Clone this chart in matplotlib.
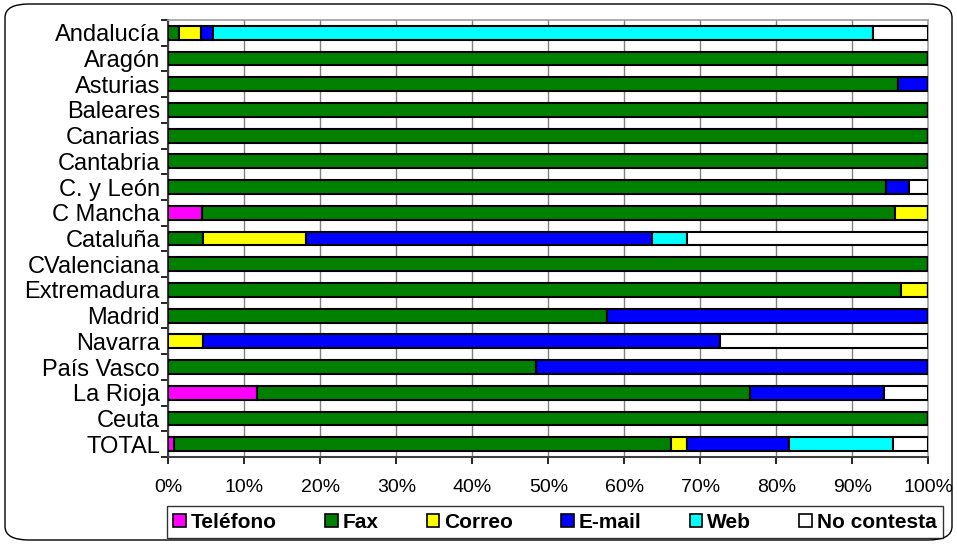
import matplotlib
matplotlib.use("Agg")
import matplotlib.pyplot as plt
from matplotlib.patches import FancyBboxPatch, Patch
import numpy as np

plt.rcParams['font.family'] = ['Liberation Sans', 'DejaVu Sans']

regions = ["Andalucía", "Aragón", "Asturias", "Baleares", "Canarias", "Cantabria",
           "C. y León", "C Mancha", "Cataluña", "CValenciana", "Extremadura",
           "Madrid", "Navarra", "País Vasco", "La Rioja", "Ceuta", "TOTAL"]

telefono    = [0.0, 0, 0, 0, 0, 0, 0, 4.4, 0, 0, 0, 0, 0, 0, 11.7, 0, 0.7]
fax         = [1.45, 100, 96.0, 100, 100, 100, 94.4, 91.2, 4.6, 100, 96.4, 57.7, 0, 48.4, 64.8, 100, 65.5]
correo      = [2.9, 0, 0, 0, 0, 0, 0, 4.4, 13.5, 0, 3.6, 0, 4.6, 0, 0, 0, 2.0]
email       = [1.5, 0, 4.0, 0, 0, 0, 3.0, 0, 45.5, 0, 0, 42.3, 68.0, 51.6, 17.7, 0, 13.5]
web         = [86.85, 0, 0, 0, 0, 0, 0, 0, 4.6, 0, 0, 0, 0, 0, 0, 0, 13.6]
no_contesta = [7.3, 0, 0, 0, 0, 0, 2.6, 0, 31.8, 0, 0, 0, 27.4, 0, 5.8, 0, 4.7]

series_names = ["Teléfono", "Fax", "Correo", "E-mail", "Web", "No contesta"]
series_vals = [telefono, fax, correo, email, web, no_contesta]
colors = ["#FF00FF", "#008000", "#FFFF00", "#0000FF", "#00FFFF", "#FFFFFF"]

fig = plt.figure(figsize=(9.57, 5.44), dpi=100)
ax = fig.add_axes([168.3/957, 1-457/544, (928.3-168.3)/957, (457-20)/544])

y = np.arange(len(regions))
left = np.zeros(len(regions))
for name, vals, c in zip(series_names, series_vals, colors):
    v = np.array(vals, dtype=float)
    ax.barh(y, v, left=left, height=0.54, color=c, edgecolor='black',
            linewidth=1.5, label=name, zorder=3)
    left += v

ax.set_xlim(0, 100)
ax.set_ylim(len(regions)-0.5, -0.5)
ax.set_xticks(np.arange(0, 101, 10))
ax.set_xticklabels([f"{t}%" for t in range(0, 101, 10)], fontsize=14)
ax.set_yticks(y)
ax.set_yticklabels(regions, fontsize=17)
ax.set_yticks(np.arange(-0.5, len(regions), 1), minor=True)
ax.tick_params(axis='y', which='major', length=0, pad=6)
ax.tick_params(axis='y', which='minor', length=5, width=1.2, direction='out')
ax.tick_params(axis='x', which='major', length=5, width=1.2, direction='out', pad=11)
ax.grid(axis='x', color='#808080', linewidth=1.0, zorder=0)
for s in ['top', 'right']:
    ax.spines[s].set_color('#A0A0A0')
    ax.spines[s].set_linewidth(1.2)
for s in ['left', 'bottom']:
    ax.spines[s].set_color('#404040')
    ax.spines[s].set_linewidth(1.5)

handles = [Patch(facecolor=c, edgecolor='black', linewidth=1.2) for c in colors]
leg = fig.legend(handles, series_names, ncol=6, loc='center',
                 bbox_to_anchor=(555/957, 1-522/544), frameon=True,
                 prop={'weight': 'bold', 'size': 15}, handlelength=0.6,
                 handleheight=0.6, handletextpad=0.25, columnspacing=2.3,
                 borderpad=0.3, fancybox=False)
leg.get_frame().set_edgecolor('black')
leg.get_frame().set_linewidth(1.0)

border = FancyBboxPatch((5/957, 4/544), (952-5)/957, (540-4)/544,
                        boxstyle="round,pad=0,rounding_size=0.025",
                        transform=fig.transFigure, facecolor='none',
                        edgecolor='black', linewidth=1.0)
fig.patches.append(border)

fig.savefig("out.png", dpi=100)
